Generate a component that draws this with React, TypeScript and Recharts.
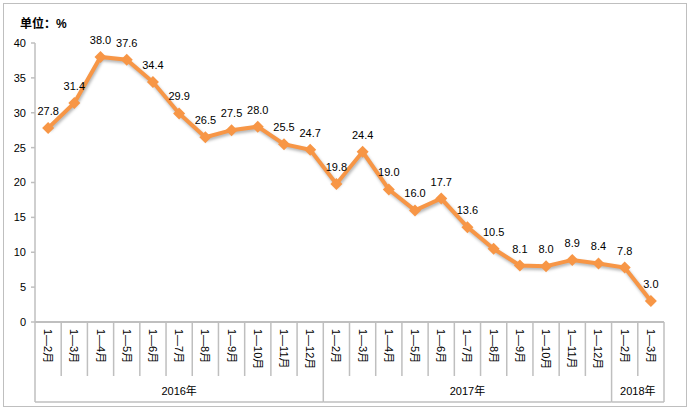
import * as React from 'react'
import { LineChart, Line, XAxis, YAxis, LabelList } from 'recharts'

const months = [
  '1—2月', '1—3月', '1—4月', '1—5月', '1—6月', '1—7月', '1—8月', '1—9月', '1—10月', '1—11月', '1—12月',
  '1—2月', '1—3月', '1—4月', '1—5月', '1—6月', '1—7月', '1—8月', '1—9月', '1—10月', '1—11月', '1—12月',
  '1—2月', '1—3月',
]
const growth = [
  27.8, 31.4, 38.0, 37.6, 34.4, 29.9, 26.5, 27.5, 28.0, 25.5, 24.7,
  19.8, 24.4, 19.0, 16.0, 17.7, 13.6, 10.5, 8.1, 8.0, 8.9, 8.4,
  7.8, 3.0,
]
const yearLabels = ['2016年', '2017年', '2018年']
const yearSpans = [11, 11, 2]
const yTicks = [0, 5, 10, 15, 20, 25, 30, 35, 40]

const W = 691
const H = 412
const M = { top: 43, right: 27, bottom: 10, left: 0 }
const Y_W = 35
const X_H = 80
const BAND = (W - M.left - M.right - Y_W) / months.length

const FONT = '"Liberation Sans", "Noto Sans CJK SC", sans-serif'
const ORANGE = '#F79646'
const GRID = '#BFBFBF'

const data = months.map((m, i) => ({ key: `${i}`, month: m, value: growth[i] }))

// year group starts, by category index
const groupStarts = yearSpans.map((_, g) => yearSpans.slice(0, g).reduce((a, b) => a + b, 0))

const CategoryTick = (props: any) => {
  const { x, y, index } = props
  const left = x - BAND / 2
  const g = groupStarts.indexOf(index)
  const isLast = index === months.length - 1
  return (
    <g>
      <line x1={left} y1={y} x2={left} y2={g >= 0 ? y + 80 : y + 54} stroke={GRID} strokeWidth={1.5} />
      {isLast && <line x1={left + BAND} y1={y} x2={left + BAND} y2={y + 80} stroke={GRID} strokeWidth={1.5} />}
      <text
        transform={`translate(${x},${y + 7}) rotate(90)`}
        textAnchor="start"
        dominantBaseline="central"
        fontSize={11}
        fontFamily={FONT}
        fill="#000"
      >
        {months[index]}
      </text>
      {g >= 0 && (
        <>
          <text
            x={left + (yearSpans[g] * BAND) / 2}
            y={y + 69}
            textAnchor="middle"
            dominantBaseline="central"
            fontSize={11}
            fontFamily={FONT}
            fill="#000"
          >
            {yearLabels[g]}
          </text>
          <line x1={left} y1={y + 80} x2={left + yearSpans[g] * BAND} y2={y + 80} stroke={GRID} strokeWidth={1.5} />
        </>
      )}
    </g>
  )
}

const Diamond = (props: any) => {
  const { cx, cy } = props
  if (cx == null || cy == null) return null
  const r = 6
  return (
    <path
      d={`M${cx},${cy - r}L${cx + r},${cy}L${cx},${cy + r}L${cx - r},${cy}Z`}
      fill={ORANGE}
      stroke="none"
    />
  )
}

export default function App() {
  return (
    <div style={{ position: 'absolute', left: 0, top: 0, width: W, height: H, background: '#fff' }}>
      <div
        style={{
          position: 'absolute', left: 3, top: 3, width: 684, height: 404,
          border: `1px solid ${GRID}`, boxSizing: 'border-box',
        }}
      />
      <div
        style={{
          position: 'absolute', left: 20, top: 14, fontSize: 12, fontWeight: 'bold',
          fontFamily: FONT, color: '#000',
        }}
      >
        单位：%
      </div>
      <LineChart width={W} height={H} data={data} margin={M}>
        <XAxis
          dataKey="key"
          scale="band"
          height={X_H}
          interval={0}
          tickLine={false}
          tickSize={0}
          tickMargin={0}
          axisLine={{ stroke: GRID, strokeWidth: 2 }}
          tick={<CategoryTick />}
        />
        <YAxis
          domain={[0, 40]}
          ticks={yTicks}
          width={Y_W}
          interval={0}
          tickSize={4}
          tickMargin={5}
          axisLine={{ stroke: GRID, strokeWidth: 1.5 }}
          tickLine={{ stroke: GRID, strokeWidth: 1.5 }}
          tick={{ fill: '#000', fontSize: 11, fontFamily: FONT }}
        />
        <Line
          dataKey="value"
          stroke={ORANGE}
          strokeWidth={4}
          dot={<Diamond />}
          activeDot={false}
          isAnimationActive={false}
          style={{ filter: 'drop-shadow(1px 2px 1.5px rgba(0,0,0,0.3))' }}
        >
          <LabelList
            dataKey="value"
            position="top"
            offset={13}
            formatter={(v: any) => Number(v).toFixed(1)}
            style={{ fill: '#000', fontSize: 11, fontFamily: FONT }}
          />
        </Line>
      </LineChart>
    </div>
  )
}
